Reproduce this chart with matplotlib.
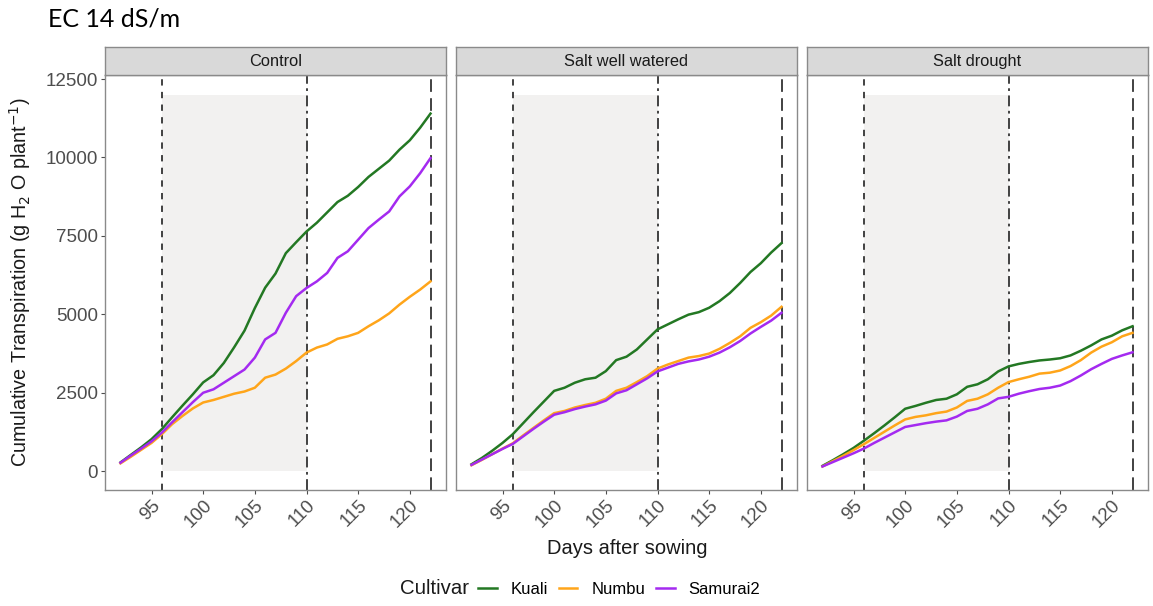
import numpy as np
import matplotlib
matplotlib.use("Agg")
from matplotlib import pyplot as plt
from matplotlib.lines import Line2D

plt.rcParams['font.family'] = ['Liberation Sans', 'DejaVu Sans']

days = np.arange(92, 123)
cultivars = ["Kuali", "Numbu", "Samurai2"]
colours = ["#237823", "#FFA51A", "#A42AF0"]
panels = ["Control", "Salt well watered", "Salt drought"]

control_kuali = [280, 520, 760, 1020, 1340, 1720, 2090, 2450, 2830, 3060, 3450,
                 3950, 4480, 5200, 5850, 6300, 6950, 7300, 7640, 7920, 8250,
                 8580, 8780, 9060, 9380, 9640, 9900, 10250, 10550, 10950, 11400]
control_numbu = [250, 460, 680, 900, 1180, 1500, 1760, 2000, 2190, 2270, 2370,
                 2470, 2540, 2660, 2980, 3080, 3270, 3510, 3780, 3940, 4040,
                 4220, 4300, 4410, 4620, 4810, 5030, 5310, 5560, 5790, 6050]
control_samurai = [270, 500, 720, 950, 1230, 1560, 1880, 2200, 2500, 2610, 2820,
                   3030, 3240, 3620, 4200, 4410, 5050, 5580, 5840, 6050, 6320,
                   6800, 7010, 7380, 7750, 8020, 8280, 8760, 9080, 9500, 9980]

sww_kuali = [220, 420, 650, 900, 1180, 1530, 1880, 2220, 2560, 2660, 2820,
             2930, 2980, 3190, 3540, 3650, 3880, 4200, 4520, 4680, 4840,
             4990, 5070, 5210, 5420, 5680, 6000, 6350, 6630, 6970, 7270]
sww_numbu = [190, 360, 540, 720, 890, 1140, 1380, 1620, 1850, 1920, 2030,
             2110, 2180, 2310, 2560, 2660, 2840, 3030, 3270, 3400, 3510,
             3620, 3670, 3750, 3900, 4090, 4300, 4570, 4750, 4960, 5240]
sww_samurai = [200, 370, 540, 710, 870, 1110, 1350, 1580, 1800, 1880, 1980,
               2060, 2130, 2250, 2480, 2580, 2770, 2960, 3180, 3300, 3420,
               3500, 3560, 3650, 3780, 3950, 4150, 4390, 4600, 4800, 5050]

sd_kuali = [170, 350, 540, 740, 970, 1210, 1460, 1720, 1990, 2080, 2180,
            2270, 2310, 2450, 2690, 2770, 2930, 3180, 3340, 3420, 3480,
            3530, 3560, 3600, 3690, 3840, 4010, 4200, 4320, 4490, 4620]
sd_numbu = [150, 320, 490, 670, 860, 1060, 1260, 1460, 1650, 1730, 1780,
            1850, 1900, 2030, 2240, 2310, 2450, 2660, 2840, 2930, 3010,
            3110, 3140, 3210, 3350, 3540, 3780, 3970, 4110, 4300, 4410]
sd_samurai = [150, 290, 430, 570, 720, 900, 1070, 1240, 1410, 1470, 1530,
              1580, 1620, 1740, 1920, 1990, 2130, 2320, 2370, 2470, 2550,
              2620, 2660, 2730, 2870, 3050, 3250, 3420, 3580, 3690, 3790]

data = [[control_kuali, control_numbu, control_samurai],
        [sww_kuali, sww_numbu, sww_samurai],
        [sd_kuali, sd_numbu, sd_samurai]]

shade_start, shade_end, shade_top = 96, 110, 12000
vlines = [(96, (0, (3.5, 3.5))), (110, (0, (6, 2.5, 1.5, 2.5))), (122, (0, (7, 3.5)))]

W, H = 1153, 606
fig = plt.figure(figsize=(W / 100, H / 100), dpi=100)

lefts = [105, 456, 807]
pw = 341
top, bottom = 75, 490
strip_top = 47
border = "#8a8a8a"
tickcol = "#4d4d4d"

for i, left in enumerate(lefts):
    ax = fig.add_axes([left / W, 1 - bottom / H, pw / W, (bottom - top) / H])
    ax.fill_between([shade_start, shade_end], 0, shade_top, color="#F2F1F0", lw=0, zorder=0)
    for x, ls in vlines:
        ax.axvline(x, color="#333333", lw=1.3, linestyle=ls, zorder=1)
    for vals, c in zip(data[i], colours):
        ax.plot(days, vals, color=c, lw=1.8, zorder=2)
    ax.set_xlim(90.5, 123.5)
    ax.set_ylim(-600, 12630)
    ax.set_xticks(np.arange(95, 121, 5))
    ax.set_yticks(np.arange(0, 12501, 2500))
    ax.tick_params(axis="x", labelrotation=45, labelsize=13.5, colors=tickcol,
                   length=3, width=0.8, pad=2)
    ax.tick_params(axis="y", labelsize=13.5, colors=tickcol, length=3, width=0.8, pad=2)
    for lab in ax.get_xticklabels():
        lab.set_ha("right")
        lab.set_rotation_mode("anchor")
    if i > 0:
        ax.set_yticklabels([])
        ax.tick_params(axis="y", length=0)
    for s in ax.spines.values():
        s.set_color(border)
        s.set_linewidth(1.0)

    sax = fig.add_axes([left / W, 1 - top / H, pw / W, (top - strip_top) / H])
    sax.set_facecolor("#D9D9D9")
    sax.set_xticks([])
    sax.set_yticks([])
    for s in sax.spines.values():
        s.set_color(border)
        s.set_linewidth(1.0)
    sax.text(0.5, 0.47, panels[i], ha="center", va="center", fontsize=11.8,
             color="#1a1a1a", transform=sax.transAxes)

fig.text(48 / W, 1 - 19 / H, "EC 14 dS/m", fontsize=18, family="Lato",
         ha="left", va="center", color="black")
fig.text(20 / W, 1 - 282 / H,
         "Cumulative Transpiration (g H$_2$ O plant$^{-1}$)",
         rotation=90, ha="center", va="center", fontsize=14.2, color="#1a1a1a")
fig.text(627 / W, 1 - 549 / H, "Days after sowing", ha="center", va="center",
         fontsize=14.5, color="#1a1a1a")

fig.text(400 / W, 1 - 589 / H, "Cultivar", ha="left", va="center",
         fontsize=14.7, color="#1a1a1a")
handles = [Line2D([], [], color=c, lw=1.8) for c in colours]
fig.legend(handles, cultivars, ncol=3, frameon=False, fontsize=12,
           loc="center left", bbox_to_anchor=(463 / W, 1 - 589 / H),
           handlelength=1.12, handletextpad=0.85, columnspacing=0.63)

fig.savefig("out.png", dpi=100, facecolor="white")
